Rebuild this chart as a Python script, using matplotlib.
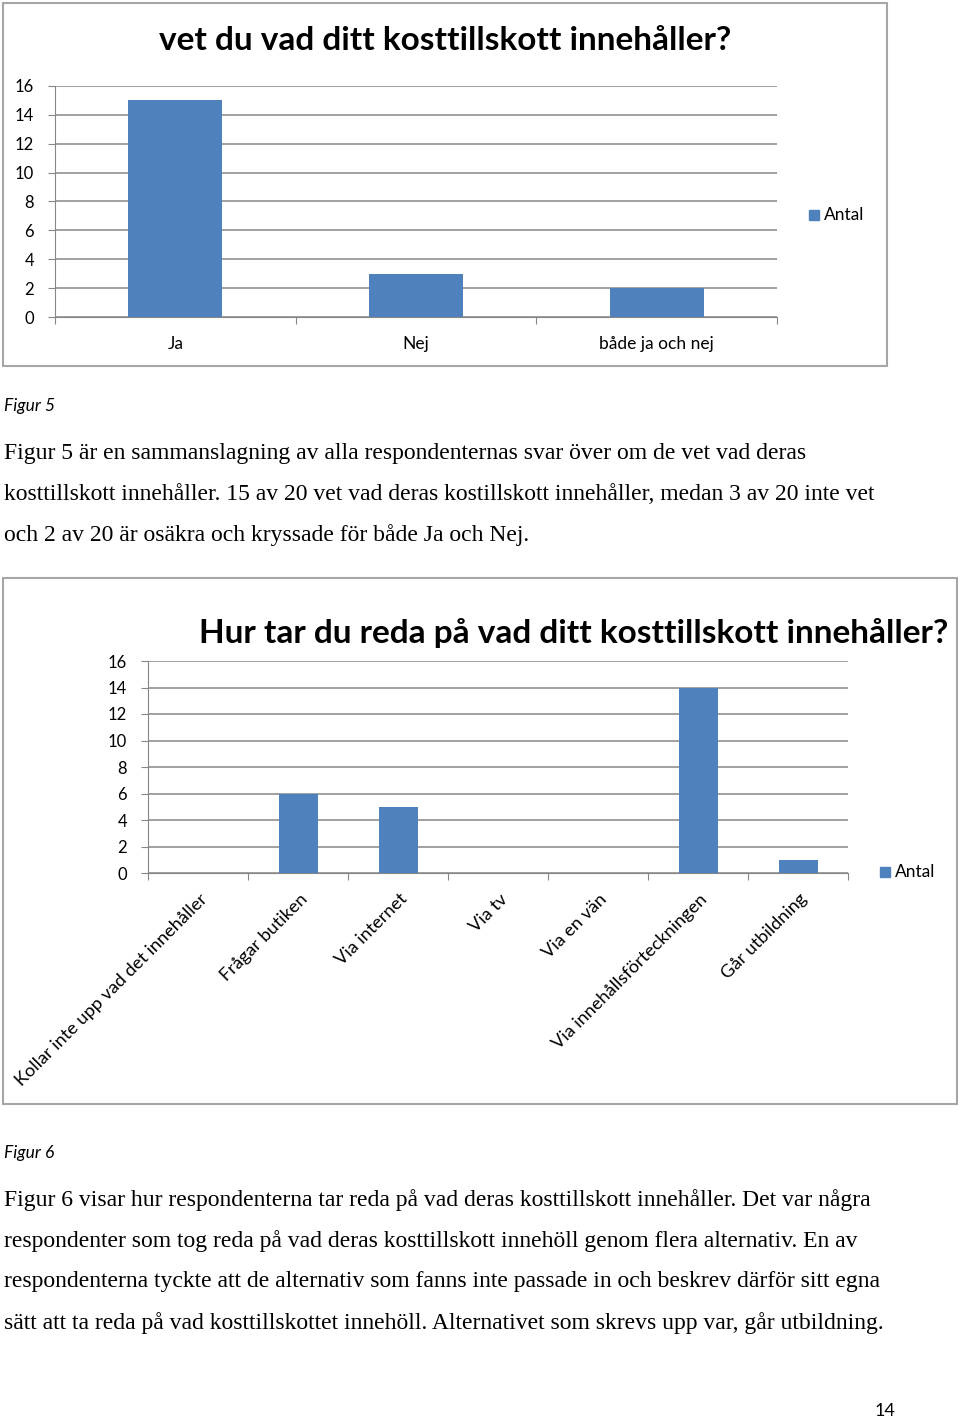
import matplotlib
matplotlib.use("Agg")
import matplotlib.pyplot as plt
from matplotlib.patches import Rectangle
import numpy as np

W, H = 960, 1421

# chart 1 data
q1_title = "vet du vad ditt kosttillskott innehåller?"
q1_cats = ["Ja", "Nej", "både ja och nej"]
q1_vals = [15, 3, 2]

# chart 2 data
q2_title = "Hur tar du reda på vad ditt kosttillskott innehåller?"
q2_cats = ["Kollar inte upp vad det innehåller", "Frågar butiken", "Via internet",
           "Via tv", "Via en vän", "Via innehållsförteckningen", "Går utbildning"]
q2_vals = [0, 6, 5, 0, 0, 14, 1]

yticks = list(range(0, 17, 2))
series_name = "Antal"

para1 = [
    "Figur 5 är en sammanslagning av alla respondenternas svar över om de vet vad deras",
    "kosttillskott innehåller. 15 av 20 vet vad deras kostillskott innehåller, medan 3 av 20 inte vet",
    "och 2 av 20 är osäkra och kryssade för både Ja och Nej.",
]
para2 = [
    "Figur 6 visar hur respondenterna tar reda på vad deras kosttillskott innehåller. Det var några",
    "respondenter som tog reda på vad deras kosttillskott innehöll genom flera alternativ. En av",
    "respondenterna tyckte att de alternativ som fanns inte passade in och beskrev därför sitt egna",
    "sätt att ta reda på vad kosttillskottet innehöll. Alternativet som skrevs upp var, går utbildning.",
]

BLUE = "#4F81BD"
GRID = "#868686"
SANS = "Lato"
SERIF = "Liberation Serif"

fig = plt.figure(figsize=(W / 100, H / 100), dpi=100)


def frac_box(x0, y0, x1, y1):
    # pixel box (top-left origin) -> figure fraction rect
    return [x0 / W, 1 - y1 / H, (x1 - x0) / W, (y1 - y0) / H]


def fx(x):
    return x / W


def fy(y):
    return 1 - y / H


def frame(x0, y0, x1, y1):
    fig.patches.append(Rectangle((fx(x0), fy(y1)), (x1 - x0) / W, (y1 - y0) / H,
                                 transform=fig.transFigure, fill=False,
                                 edgecolor="#A6A6A6", linewidth=1.5))


def bar_chart(rect, cats, vals, rotate):
    ax = fig.add_axes(rect)
    x = np.arange(len(cats))
    ax.bar(x, vals, width=0.39, color=BLUE, zorder=3)
    ax.set_xlim(-0.5, len(cats) - 0.5)
    ax.set_ylim(0, 16)
    ax.set_yticks(yticks)
    ax.yaxis.grid(True, color=GRID, linewidth=1.1, zorder=0)
    for s in ["top", "right"]:
        ax.spines[s].set_visible(False)
    ax.spines["left"].set_color(GRID)
    ax.spines["bottom"].set_color(GRID)
    ax.tick_params(axis="y", colors=GRID, length=5, labelcolor="black",
                   labelsize=12, pad=10)
    ax.set_xticks(np.arange(len(cats) + 1) - 0.5)
    ax.set_xticklabels([])
    ax.tick_params(axis="x", colors=GRID, length=5, direction="out")
    for lbl in ax.get_yticklabels():
        lbl.set_fontfamily(SANS)
    for i, c in enumerate(cats):
        if rotate:
            ax.text(i + 0.01, -1.35, c, rotation=45, ha="right", va="top",
                    rotation_mode="anchor", fontsize=13.1, family=SANS)
        else:
            ax.text(i, -1.35, c, ha="center", va="top", fontsize=12.5,
                    family=SANS)
    return ax


# ---- chart 1 ----
frame(3, 3, 887, 366)
bar_chart(frac_box(55, 86, 777, 317), q1_cats, q1_vals, rotate=False)
fig.text(fx(445), fy(40), q1_title, ha="center", va="center", fontsize=24,
         fontweight="bold", family=SANS)
fig.patches.append(Rectangle((fx(809), fy(220)), 10 / W, 10 / H,
                             transform=fig.transFigure, color=BLUE))
fig.text(fx(824), fy(215), series_name, ha="left", va="center", fontsize=12.5,
         family=SANS)

fig.text(fx(4), fy(406), "Figur 5", ha="left", va="center", fontsize=12.5,
         style="italic", family=SANS)
for i, line in enumerate(para1):
    fig.text(fx(4), fy(453 + 41 * i), line, ha="left", va="center",
             fontsize=17, family=SERIF)

# ---- chart 2 ----
frame(3, 578, 957, 1104)
bar_chart(frac_box(148, 661, 848, 873), q2_cats, q2_vals, rotate=True)
fig.text(fx(574), fy(633), q2_title, ha="center", va="center", fontsize=24,
         fontweight="bold", family=SANS)
fig.patches.append(Rectangle((fx(880), fy(877)), 10 / W, 10 / H,
                             transform=fig.transFigure, color=BLUE))
fig.text(fx(895), fy(872), series_name, ha="left", va="center", fontsize=12.5,
         family=SANS)

fig.text(fx(4), fy(1153), "Figur 6", ha="left", va="center", fontsize=12.5,
         style="italic", family=SANS)
for i, line in enumerate(para2):
    fig.text(fx(4), fy(1200 + 41 * i), line, ha="left", va="center",
             fontsize=17, family=SERIF)

fig.text(fx(885), fy(1411), "14", ha="center", va="center", fontsize=13,
         family=SANS)

fig.savefig("out.png", dpi=100)
